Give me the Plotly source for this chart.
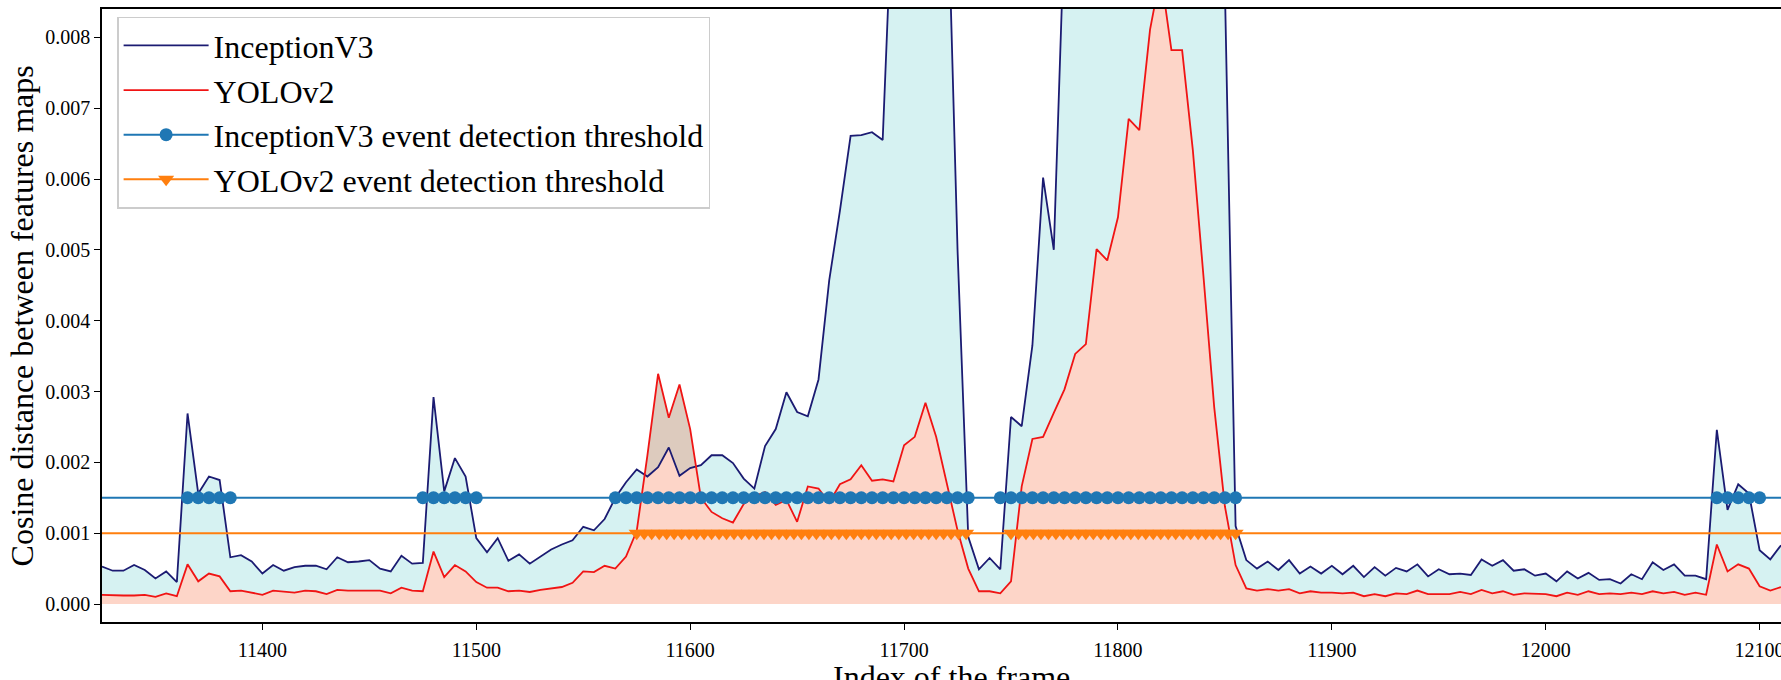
import numpy as np
import plotly.graph_objects as go

# ---------------- data ----------------
# frame index (one sample every 5 frames)
frames = np.arange(11325, 12115, 5)

# cosine distance, in units of 1e-3
inception_e3 = [
    0.53, 0.47, 0.47, 0.55, 0.48, 0.36, 0.46, 0.31, 2.69, 1.56,   # 11325-11370
    1.80, 1.75, 0.66, 0.69, 0.60, 0.43, 0.55, 0.47, 0.52, 0.54,   # 11375-11420
    0.54, 0.49, 0.66, 0.59, 0.60, 0.62, 0.50, 0.46, 0.68, 0.57,   # 11425-11470
    0.58, 2.92, 1.59, 2.06, 1.80, 0.93, 0.73, 0.93, 0.61, 0.70,   # 11475-11520
    0.57, 0.67, 0.77, 0.84, 0.90, 1.09, 1.04, 1.20, 1.50, 1.72,   # 11525-11570
    1.90, 1.80, 1.93, 2.21, 1.81, 1.92, 1.96, 2.10, 2.10, 1.99,   # 11575-11620
    1.77, 1.63, 2.23, 2.47, 2.99, 2.71, 2.65, 3.17, 4.57, 5.55,   # 11625-11670
    6.61, 6.62, 6.66, 6.55, 10.3, 12.0, 12.5, 13.0, 12.0, 10.5,   # 11675-11720
    5.00, 0.95, 0.49, 0.65, 0.49, 2.64, 2.51, 3.65, 6.02, 5.00,   # 11725-11770
    9.60, 11.5, 12.0, 12.5, 13.0, 13.5, 13.0, 12.5, 12.0, 12.5,   # 11775-11820
    12.0, 11.5, 11.0, 10.5, 10.0, 8.70, 1.10, 0.62, 0.50, 0.60,   # 11825-11870
    0.48, 0.62, 0.43, 0.53, 0.43, 0.54, 0.42, 0.54, 0.38, 0.52,   # 11875-11920
    0.40, 0.51, 0.46, 0.56, 0.39, 0.49, 0.42, 0.43, 0.41, 0.63,   # 11925-11970
    0.54, 0.62, 0.47, 0.49, 0.40, 0.43, 0.32, 0.46, 0.36, 0.44,   # 11975-12020
    0.34, 0.35, 0.29, 0.42, 0.35, 0.59, 0.48, 0.56, 0.40, 0.40,   # 12025-12070
    0.35, 2.46, 1.33, 1.69, 1.56, 0.76, 0.63, 0.83,               # 12075-12110
]

yolo_e3 = [
    0.13, 0.12, 0.12, 0.12, 0.13, 0.10, 0.15, 0.11, 0.56, 0.32,   # 11325-11370
    0.43, 0.39, 0.18, 0.19, 0.16, 0.13, 0.19, 0.18, 0.16, 0.19,   # 11375-11420
    0.18, 0.14, 0.20, 0.19, 0.19, 0.19, 0.19, 0.15, 0.23, 0.19,   # 11425-11470
    0.18, 0.74, 0.38, 0.55, 0.46, 0.31, 0.23, 0.23, 0.18, 0.19,   # 11475-11520
    0.17, 0.20, 0.22, 0.24, 0.30, 0.46, 0.45, 0.54, 0.50, 0.67,   # 11525-11570
    1.03, 2.10, 3.25, 2.63, 3.10, 2.47, 1.50, 1.30, 1.21, 1.15,   # 11575-11620
    1.41, 1.52, 1.58, 1.40, 1.47, 1.16, 1.66, 1.63, 1.43, 1.69,   # 11625-11670
    1.76, 1.96, 1.74, 1.76, 1.73, 2.24, 2.36, 2.84, 2.36, 1.68,   # 11675-11720
    1.04, 0.50, 0.18, 0.18, 0.15, 0.32, 1.66, 2.33, 2.36, 2.70,   # 11725-11770
    3.03, 3.53, 3.67, 5.01, 4.85, 5.46, 6.85, 6.69, 8.11, 8.90,   # 11775-11820
    7.82, 7.82, 6.41, 4.62, 2.78, 1.38, 0.55, 0.22, 0.19, 0.21,   # 11825-11870
    0.19, 0.21, 0.15, 0.18, 0.16, 0.16, 0.15, 0.16, 0.11, 0.14,   # 11875-11920
    0.11, 0.15, 0.14, 0.19, 0.14, 0.14, 0.14, 0.17, 0.14, 0.20,   # 11925-11970
    0.15, 0.18, 0.13, 0.15, 0.14, 0.14, 0.11, 0.16, 0.13, 0.18,   # 11975-12020
    0.14, 0.15, 0.14, 0.16, 0.14, 0.18, 0.15, 0.17, 0.13, 0.16,   # 12025-12070
    0.13, 0.84, 0.46, 0.56, 0.50, 0.25, 0.19, 0.24,               # 12075-12110
]

inception_threshold = 0.0015
yolo_threshold = 0.001

# detected events: (first frame, last frame, marker step)
inception_events = [(11365, 11385, 5), (11475, 11500, 5), (11565, 11730, 5),
                    (11745, 11855, 5), (12080, 12100, 5)]
yolo_events = [(11575, 11730, 3.5), (11750, 11855, 3.5)]

x_ticks = [11400, 11500, 11600, 11700, 11800, 11900, 12000, 12100]
y_ticks = [0.000, 0.001, 0.002, 0.003, 0.004, 0.005, 0.006, 0.007, 0.008]

x_title = "Index of the frame"
y_title = "Cosine distance between features maps"

# ---------------- derived ----------------
inception = np.array(inception_e3) * 1e-3
yolo = np.array(yolo_e3) * 1e-3
assert len(inception) == len(frames) == len(yolo)


def event_frames(events):
    out = []
    for a, b, s in events:
        out.extend(np.arange(a, b + 0.01, s).tolist())
    return out


inc_marks = event_frames(inception_events)
yolo_marks = event_frames(yolo_events)

NAVY = "#1b1b72"
RED = "#f01414"
BLUE = "#1f77b4"
ORANGE = "#ff7f0e"
SERIF = "Liberation Serif"

fig = go.Figure()

# fills: cyan between the two curves, translucent salmon under YOLOv2
fig.add_trace(go.Scatter(x=frames, y=yolo, mode="lines", line=dict(width=0),
                         showlegend=False, hoverinfo="skip"))
fig.add_trace(go.Scatter(x=frames, y=inception, mode="lines", line=dict(width=0),
                         fill="tonexty", fillcolor="#d6f2f2",
                         showlegend=False, hoverinfo="skip"))
fig.add_trace(go.Scatter(x=frames, y=yolo, mode="lines", line=dict(width=0),
                         fill="tozeroy", fillcolor="rgba(246,64,5,0.22)",
                         showlegend=False, hoverinfo="skip"))

# curves
fig.add_trace(go.Scatter(x=frames, y=inception, mode="lines", name="InceptionV3",
                         line=dict(color=NAVY, width=1.8)))
fig.add_trace(go.Scatter(x=frames, y=yolo, mode="lines", name="YOLOv2",
                         line=dict(color=RED, width=1.8)))

# thresholds (lines)
fig.add_trace(go.Scatter(x=[frames[0], frames[-1]],
                         y=[inception_threshold, inception_threshold],
                         mode="lines", line=dict(color=BLUE, width=2),
                         showlegend=False, hoverinfo="skip"))
fig.add_trace(go.Scatter(x=[frames[0], frames[-1]],
                         y=[yolo_threshold, yolo_threshold],
                         mode="lines", line=dict(color=ORANGE, width=2),
                         showlegend=False, hoverinfo="skip"))
# detection markers
fig.add_trace(go.Scatter(x=inc_marks, y=[inception_threshold] * len(inc_marks),
                         mode="markers", marker=dict(color=BLUE, size=13, symbol="circle"),
                         showlegend=False))
fig.add_trace(go.Scatter(x=yolo_marks, y=[yolo_threshold] * len(yolo_marks),
                         mode="markers",
                         marker=dict(color=ORANGE, size=14, symbol="triangle-down"),
                         showlegend=False))
# legend proxies for thresholds
fig.add_trace(go.Scatter(x=[None], y=[None], mode="lines+markers",
                         name="InceptionV3 event detection threshold",
                         line=dict(color=BLUE, width=2),
                         marker=dict(color=BLUE, size=13, symbol="circle")))
fig.add_trace(go.Scatter(x=[None], y=[None], mode="lines+markers",
                         name="YOLOv2 event detection threshold",
                         line=dict(color=ORANGE, width=2),
                         marker=dict(color=ORANGE, size=14, symbol="triangle-down")))

tick_font = dict(family=SERIF, size=20, color="black")
title_font = dict(family=SERIF, size=32, color="black")

fig.update_xaxes(range=[11325, 12110], tickvals=x_ticks, tickformat="d", mirror=True,
                 showgrid=False, zeroline=False, showline=True, linecolor="black",
                 linewidth=1.5, ticks="outside", ticklen=6, tickwidth=1.3,
                 tickcolor="black", automargin=False, tickfont=tick_font,
                 ticklabelstandoff=3, ticklabeloverflow="allow")
fig.update_yaxes(range=[-0.000254, 0.0084], tickvals=y_ticks, tickformat=".3f",
                 showgrid=False, zeroline=False, showline=True, linecolor="black",
                 linewidth=1.5, ticks="outside", ticklen=6, tickwidth=1.3,
                 tickcolor="black", automargin=False, tickfont=tick_font,
                 ticklabelstandoff=0)

fig.update_layout(
    width=1781, height=680,
    margin=dict(l=102, r=0, t=9, b=58, pad=0),
    paper_bgcolor="white", plot_bgcolor="white",
    font=dict(family=SERIF, size=20, color="black"),
    showlegend=True,
    legend=dict(x=0.009, y=0.9875, xanchor="left", yanchor="top",
                traceorder="normal",
                bgcolor="rgba(255,255,255,0.85)", bordercolor="#cccccc", borderwidth=1.5,
                font=dict(family=SERIF, size=32, color="black"),
                itemwidth=85),
    annotations=[
        dict(text=x_title, xref="paper", yref="paper", x=0.5057, y=-0.057,
             xanchor="center", yanchor="top", showarrow=False, font=title_font),
        dict(text=y_title, xref="paper", yref="paper", x=-0.0477, y=0.5,
             xanchor="center", yanchor="middle", textangle=-90, showarrow=False,
             font=title_font),
    ],
)

fig.write_html("out.html", config={"displayModeBar": False},
               post_script="document.body.style.margin='0px';")
